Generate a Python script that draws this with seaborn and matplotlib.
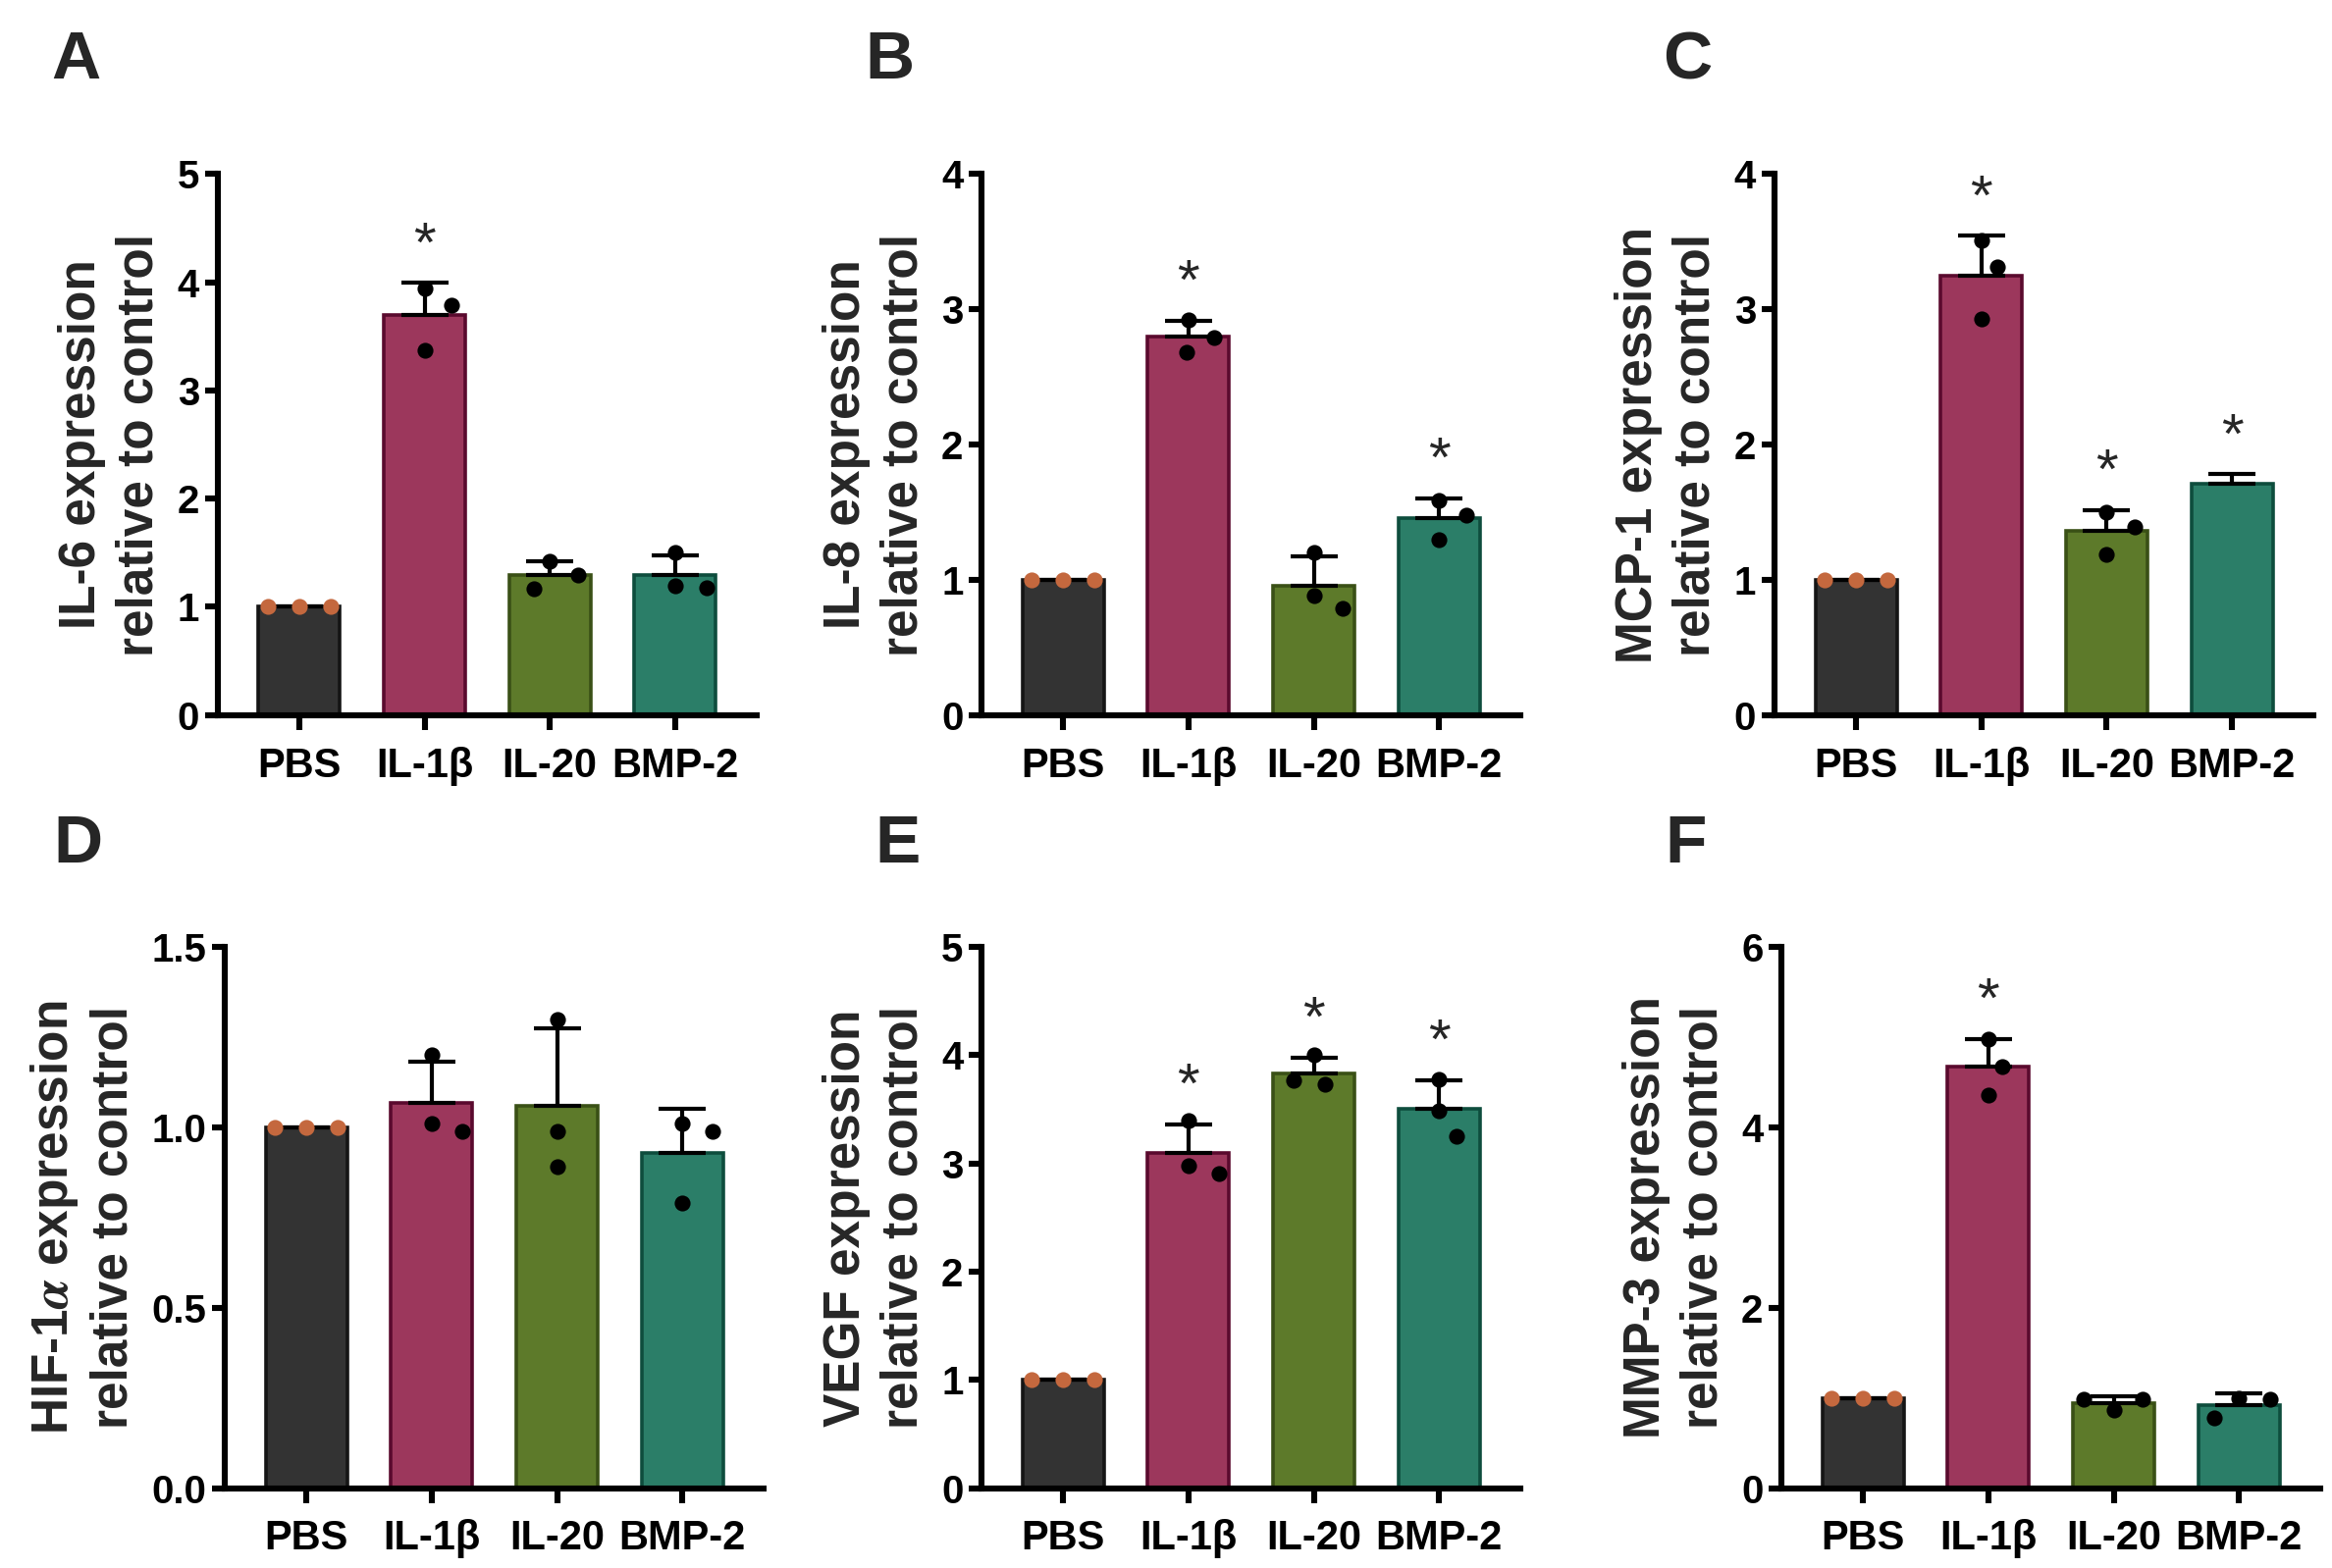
import numpy as np
import pandas as pd
import matplotlib.pyplot as plt
import seaborn as sns

# groups on the x axis
groups = ['PBS', 'IL-1β', 'IL-20', 'BMP-2']

# replicate values (n=3), one list per group
il6 = [[1.0, 1.0, 1.0], [3.94, 3.79, 3.37], [1.42, 1.29, 1.17], [1.50, 1.19, 1.18]]
il8 = [[1.0, 1.0, 1.0], [2.92, 2.79, 2.68], [1.20, 0.88, 0.79], [1.59, 1.48, 1.30]]
mcp1 = [[1.0, 1.0, 1.0], [3.51, 3.31, 2.93], [1.50, 1.39, 1.19], [1.79, 1.68, 1.66]]
hif1a = [[1.0, 1.0, 1.0], [1.20, 1.01, 0.99], [1.30, 0.99, 0.89], [1.01, 0.99, 0.79]]
vegf = [[1.0, 1.0, 1.0], [3.40, 2.98, 2.91], [4.00, 3.73, 3.77], [3.78, 3.49, 3.25]]
mmp3 = [[1.0, 1.0, 1.0], [4.98, 4.67, 4.36], [0.87, 0.99, 0.98], [1.00, 0.99, 0.78]]

# groups marked significant (*) in each panel
il6_sig = ['IL-1β']
il8_sig = ['IL-1β', 'BMP-2']
mcp1_sig = ['IL-1β', 'IL-20', 'BMP-2']
hif1a_sig = []
vegf_sig = ['IL-1β', 'IL-20', 'BMP-2']
mmp3_sig = ['IL-1β']

# the replicate dots of MCP-1 / BMP-2 are not shown in the figure
mcp1_hidden = ['BMP-2']

ylabels = ['IL-6 expression\nrelative to control',
           'IL-8 expression\nrelative to control',
           'MCP-1 expression\nrelative to control',
           'HIF-1$\\alpha$ expression\nrelative to control',
           'VEGF expression\nrelative to control',
           'MMP-3 expression\nrelative to control']
yticks = [[0, 1, 2, 3, 4, 5], [0, 1, 2, 3, 4], [0, 1, 2, 3, 4],
          [0.0, 0.5, 1.0, 1.5], [0, 1, 2, 3, 4, 5], [0, 2, 4, 6]]
letters = ['A', 'B', 'C', 'D', 'E', 'F']

panels = [(il6, il6_sig, []), (il8, il8_sig, []), (mcp1, mcp1_sig, mcp1_hidden),
          (hif1a, hif1a_sig, []), (vegf, vegf_sig, []), (mmp3, mmp3_sig, [])]

fill = ['#333333', '#9c375c', '#5d7a2a', '#2b7e68']
edge = ['#151515', '#5a0a2e', '#3a5016', '#0e4d3d']
dot_col = ['#c4683e', 'black', 'black', 'black']

sns.set_style('ticks')
plt.rcParams['font.family'] = ['Liberation Sans', 'DejaVu Sans']
plt.rcParams['font.weight'] = 'bold'
plt.rcParams['axes.labelweight'] = 'bold'
plt.rcParams['mathtext.fontset'] = 'stix'
plt.rcParams['axes.linewidth'] = 2.2
plt.rcParams['xtick.major.width'] = 2.2
plt.rcParams['ytick.major.width'] = 2.2
plt.rcParams['xtick.color'] = 'black'
plt.rcParams['ytick.color'] = 'black'
plt.rcParams['axes.edgecolor'] = 'black'


def swarm(ys, gap):
    # simple beeswarm in pixel space: each dot goes as near the centre as it can
    placed = []
    for y in ys:
        cands = [0.0]
        for px, py in placed:
            dy = abs(y - py)
            if dy < gap:
                dx = np.sqrt(gap ** 2 - dy ** 2)
                cands += [px + dx, px - dx]
        cands.sort(key=lambda c: (round(abs(c), 6), -c))
        for c in cands:
            if all((c - px) ** 2 + (y - py) ** 2 >= gap ** 2 - 1e-6 for px, py in placed):
                placed.append((c, y))
                break
    return [p[0] for p in placed]


fig = plt.figure(figsize=(11.88, 7.99), dpi=200)
lefts = [0.0934, 0.421, 0.761, 0.0965, 0.421, 0.764]
bottoms = [0.544, 0.544, 0.544, 0.051, 0.051, 0.051]
w, h = 0.231, 0.345
letter_xy = [(0.022, 0.981), (0.371, 0.981), (0.713, 0.981),
             (0.023, 0.481), (0.375, 0.481), (0.714, 0.481)]

for k, (reps, sig, hidden) in enumerate(panels):
    ax = fig.add_axes([lefts[k], bottoms[k], w, h])
    df = pd.DataFrame({'group': np.repeat(groups, 3),
                       'value': np.concatenate(reps)})
    sns.barplot(data=df, x='group', y='value', hue='group', order=groups,
                palette=fill, errorbar=None, width=0.65, legend=False,
                linewidth=1.3, saturation=1, ax=ax)
    for p, ec in zip(ax.patches, edge):
        p.set_edgecolor(ec)

    stats = df.groupby('group', sort=False)['value'].agg(['mean', 'std']).reindex(groups)
    xs = np.arange(len(groups))
    ax.errorbar(xs, stats['mean'], yerr=[np.zeros(len(groups)), stats['std']],
                fmt='none', ecolor='black', elinewidth=1.5, capsize=8.5,
                capthick=1.5, zorder=3)

    ymax = yticks[k][-1]
    ax.set_xlim(-0.65, 3.65)
    ax.set_ylim(0, ymax)
    ax.set_yticks(yticks[k])
    if ymax == 1.5:
        ax.set_yticklabels([f'{t:.1f}' for t in yticks[k]])

    # dots
    px_x = ax.bbox.width / 4.3
    px_y = ax.bbox.height / ymax
    gap = 11.5 / 72 * fig.dpi
    for i, g in enumerate(groups):
        if g in hidden:
            continue
        vals = np.array(reps[i])
        offs = np.array(swarm(vals * px_y, gap)) / px_x
        ax.scatter(i + offs, vals, s=34, color=dot_col[i], linewidths=0, zorder=4)

    # significance stars
    for g in sig:
        i = groups.index(g)
        top = stats.loc[g, 'mean'] + stats.loc[g, 'std']
        ax.annotate('*', xy=(i, top), xytext=(0, 3.5), textcoords='offset points',
                    ha='center', va='bottom', fontsize=21, fontweight='normal')

    ax.set_xlabel('')
    ax.set_ylabel(ylabels[k], fontsize=18.5, labelpad=5, linespacing=1.25)
    ax.tick_params(axis='x', length=5.5, pad=6, labelsize=15)
    ax.tick_params(axis='y', length=4.8, pad=2, labelsize=14.5)
    sns.despine(ax=ax)

    fig.text(letter_xy[k][0], letter_xy[k][1], letters[k], fontsize=25,
             fontweight='bold', va='top', ha='left')

fig.savefig('out.png', dpi=200)
